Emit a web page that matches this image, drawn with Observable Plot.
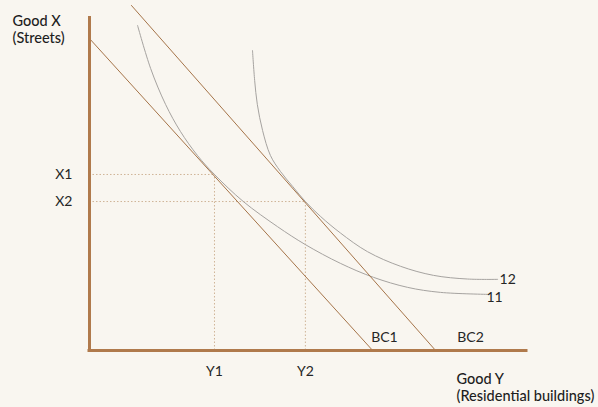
<!DOCTYPE html>
<html>
<head>
<meta charset="utf-8">
<script src="https://cdn.jsdelivr.net/npm/d3@7"></script>
<script src="https://cdn.jsdelivr.net/npm/@observablehq/plot@0.6"></script>
<style>
  html, body { margin: 0; padding: 0; background: #f9f6f0; }
  #chart svg { display: block; }
</style>
</head>
<body>
<div id="chart"></div>
<script>
// Budget constraints (endpoints)
const bc1X = [0, 6.48];
const bc1Y = [9.34, 0];
const bc2X = [0.96, 7.92];
const bc2Y = [10.33, 0];

// Indifference curve 11
const ic11X = [1.10, 1.40, 1.74, 2.08, 2.47, 2.86, 3.52, 4.30, 4.94, 5.74, 6.50, 7.28, 8.03, 9.13];
const ic11Y = [9.73, 8.44, 7.37, 6.56, 5.84, 5.27, 4.46, 3.71, 3.17, 2.61, 2.19, 1.89, 1.74, 1.68];

// Indifference curve 12
const ic12X = [3.73, 3.78, 3.84, 3.96, 4.14, 4.37, 4.65, 4.94, 5.29, 5.74, 6.36, 7.12, 7.87, 8.65, 9.34];
const ic12Y = [8.98, 8.08, 7.37, 6.59, 5.84, 5.36, 4.91, 4.46, 4.01, 3.52, 2.96, 2.52, 2.25, 2.14, 2.13];

// Optimum points
const optX = [2.86, 4.94];
const optY = [5.27, 4.46];

// Tick labels
const xTickLabels = ["Y1", "Y2"];
const yTickLabels = ["X1", "X2"];

// Curve labels
const curveLabels = ["BC1", "BC2", "12", "11"];
const curveLabelX = [6.75, 8.72, 9.57, 9.27];
const curveLabelY = [0.39, 0.39, 2.13, 1.59];
const curveLabelAnchor = ["middle", "middle", "start", "start"];

const toPts = (xs, ys) => xs.map((x, i) => ({x, y: ys[i]}));
const bc1 = toPts(bc1X, bc1Y);
const bc2 = toPts(bc2X, bc2Y);
const ic11 = toPts(ic11X, ic11Y);
const ic12 = toPts(ic12X, ic12Y);
const opts = optX.map((x, i) => ({x, y: optY[i]}));
const labels = curveLabels.map((t, i) => ({t, x: curveLabelX[i], y: curveLabelY[i], a: curveLabelAnchor[i]}));

const axisColor = "#b07a4c";
const bcColor = "#a57449";
const icColor = "#a6a3a0";
const dotColor = "#cfb497";

const chart = Plot.plot({
  width: 598,
  height: 407,
  marginLeft: 89,
  marginRight: 72,
  marginTop: 16,
  marginBottom: 57,
  x: {domain: [0, 10]},
  y: {domain: [0, 10]},
  style: {background: "#f9f6f0", fontFamily: "Lato, 'Noto Sans', sans-serif", fontSize: "14px", color: "#262626", overflow: "visible"},
  marks: [
    // dotted guides
    Plot.ruleY(opts, {y: "y", x1: 0, x2: "x", stroke: dotColor, strokeWidth: 1, strokeDasharray: "1.5,2"}),
    Plot.ruleX(opts, {x: "x", y1: 0, y2: "y", stroke: dotColor, strokeWidth: 1, strokeDasharray: "1.5,2"}),
    // indifference curves
    Plot.line(ic11, {x: "x", y: "y", stroke: icColor, strokeWidth: 1, curve: "catmull-rom"}),
    Plot.line(ic12, {x: "x", y: "y", stroke: icColor, strokeWidth: 1, curve: "catmull-rom"}),
    // budget lines
    Plot.line(bc1, {x: "x", y: "y", stroke: bcColor, strokeWidth: 1}),
    Plot.line(bc2, {x: "x", y: "y", stroke: bcColor, strokeWidth: 1}),
    // axes
    Plot.ruleX([0], {y1: 0, y2: 10, stroke: axisColor, strokeWidth: 3}),
    Plot.ruleY([0], {x1: 0, x2: 10, stroke: axisColor, strokeWidth: 3, strokeLinecap: "square"}),
    Plot.axisX({ticks: optX, tickFormat: d => xTickLabels[optX.indexOf(d)], tickSize: 0, tickPadding: 16, label: null, fontSize: 14}),
    Plot.axisY({ticks: optY, tickFormat: d => yTickLabels[optY.indexOf(d)], tickSize: 0, tickPadding: 17, label: null, fontSize: 14}),
    // curve labels
    Plot.text(labels, {x: "x", y: "y", text: "t", textAnchor: d => d.a, fontSize: 14, fill: "#262626"}),
    // axis titles
    Plot.text(["Good X\n(Streets)"], {frameAnchor: "top-left", dx: -77, dy: -3, textAnchor: "start", lineAnchor: "top", lineHeight: 1.2, fontSize: 14.5, fontWeight: 500, fill: "#1e1e1e"}),
    Plot.text(["Good Y\n(Residential buildings)"], {frameAnchor: "bottom-left", dx: 367, dy: 22, textAnchor: "start", lineAnchor: "top", lineHeight: 1.15, fontSize: 14.5, fontWeight: 500, fill: "#1e1e1e"})
  ]
});
document.getElementById("chart").appendChild(chart);
</script>
</body>
</html>
